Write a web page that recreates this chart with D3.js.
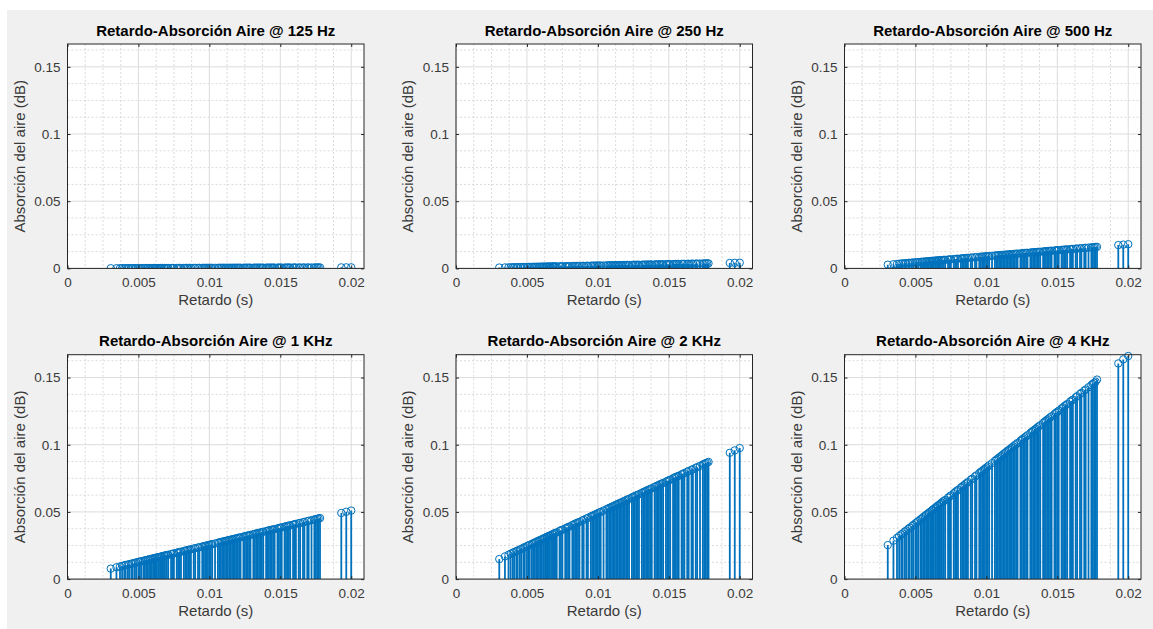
<!DOCTYPE html>
<html>
<head>
<meta charset="utf-8">
<script src="https://cdn.jsdelivr.net/npm/d3@7"></script>
<style>
  html, body { margin: 0; padding: 0; background: #ffffff; }
  svg { display: block; font-family: "Liberation Sans", Arial, Helvetica, sans-serif; }
</style>
</head>
<body>
<svg id="fig" width="1153" height="629"></svg>
<script>
// ---------------- DATA ----------------
const titles = [
  "Retardo-Absorción Aire @ 125 Hz",
  "Retardo-Absorción Aire @ 250 Hz",
  "Retardo-Absorción Aire @ 500 Hz",
  "Retardo-Absorción Aire @ 1 KHz",
  "Retardo-Absorción Aire @ 2 KHz",
  "Retardo-Absorción Aire @ 4 KHz"
];
const xLabel = "Retardo (s)";
const yLabel = "Absorción del aire (dB)";
const xTicks = [0, 0.005, 0.01, 0.015, 0.02];
const xTickLabels = ["0", "0.005", "0.01", "0.015", "0.02"];
const yTicks = [0, 0.05, 0.1, 0.15];
const yTickLabels = ["0", "0.05", "0.1", "0.15"];
const xLimits = [0, 0.0209];
const yLimits = [0, 0.167];

// delays (s)
const delays = [
  0.00305, 0.00345, 0.0037, 0.00385, 0.004, 0.0041, 0.00425, 0.00435, 0.0045, 0.0046,
  0.00475, 0.00485, 0.005, 0.0051, 0.0052, 0.00535, 0.00545, 0.00555, 0.00565, 0.00575,
  0.00585, 0.00595, 0.00605, 0.00615, 0.0062, 0.0063, 0.0064, 0.00645, 0.00655, 0.0066,
  0.0067, 0.0068, 0.00685, 0.00695,
  0.007, 0.0071, 0.0073, 0.0074, 0.0075, 0.0077, 0.0078, 0.0079, 0.008, 0.0082,
  0.0083, 0.0084, 0.0085, 0.0086, 0.0087, 0.0089, 0.009, 0.0092, 0.0093, 0.0095,
  0.0096, 0.0097, 0.0098, 0.0099, 0.01, 0.0101, 0.0102, 0.0104, 0.0106, 0.0107,
  0.0108, 0.0109, 0.011, 0.0111, 0.0112, 0.0113, 0.0114, 0.0115, 0.0116, 0.0117,
  0.0118, 0.0119, 0.012, 0.0121, 0.0122, 0.0124, 0.0125, 0.0126, 0.0127, 0.0128,
  0.0129, 0.0131, 0.0132, 0.0133, 0.0134, 0.0135, 0.0136, 0.0137, 0.0138, 0.014,
  0.0141, 0.0142, 0.0143, 0.0144, 0.0145, 0.0146, 0.0148, 0.0149, 0.015, 0.0151,
  0.0153, 0.0154, 0.0155, 0.0156, 0.0157, 0.0159, 0.016, 0.0161, 0.0163, 0.0164,
  0.0166, 0.0167, 0.0169, 0.017, 0.0172, 0.0174, 0.0175, 0.0176, 0.0177, 0.0178,
  0.0193, 0.01965, 0.02
];

const abs125 = [
  0.00012, 0.00014, 0.00015, 0.00015, 0.00016, 0.00016, 0.00017, 0.00017, 0.00018, 0.00018,
  0.00019, 0.00019, 0.0002, 0.0002, 0.00021, 0.00021, 0.00022, 0.00022, 0.00023, 0.00023,
  0.00023, 0.00024, 0.00024, 0.00025, 0.00025, 0.00025, 0.00026, 0.00026, 0.00026, 0.00026,
  0.00027, 0.00027, 0.00027, 0.00028,
  0.00028, 0.00028, 0.00029, 0.0003, 0.0003, 0.00031, 0.00031, 0.00032, 0.00032, 0.00033,
  0.00033, 0.00034, 0.00034, 0.00034, 0.00035, 0.00036, 0.00036, 0.00037, 0.00037, 0.00038,
  0.00038, 0.00039, 0.00039, 0.0004, 0.0004, 0.0004, 0.00041, 0.00042, 0.00042, 0.00043,
  0.00043, 0.00044, 0.00044, 0.00044, 0.00045, 0.00045, 0.00046, 0.00046, 0.00046, 0.00047,
  0.00047, 0.00048, 0.00048, 0.00048, 0.00049, 0.0005, 0.0005, 0.0005, 0.00051, 0.00051,
  0.00052, 0.00052, 0.00053, 0.00053, 0.00054, 0.00054, 0.00054, 0.00055, 0.00055, 0.00056,
  0.00056, 0.00057, 0.00057, 0.00058, 0.00058, 0.00058, 0.00059, 0.0006, 0.0006, 0.0006,
  0.00061, 0.00062, 0.00062, 0.00062, 0.00063, 0.00064, 0.00064, 0.00064, 0.00065, 0.00066,
  0.00066, 0.00067, 0.00068, 0.00068, 0.00069, 0.0007, 0.0007, 0.0007, 0.00071, 0.00071,
  0.00077, 0.00079, 0.0008
];

const abs250 = [
  0.00064, 0.00072, 0.00078, 0.00081, 0.00084, 0.00086, 0.00089, 0.00091, 0.00095, 0.00097,
  0.001, 0.00102, 0.00105, 0.00107, 0.00109, 0.00112, 0.00114, 0.00117, 0.00119, 0.00121,
  0.00123, 0.00125, 0.00127, 0.00129, 0.0013, 0.00132, 0.00134, 0.00135, 0.00138, 0.00139,
  0.00141, 0.00143, 0.00144, 0.00146,
  0.00147, 0.00149, 0.00153, 0.00155, 0.00158, 0.00162, 0.00164, 0.00166, 0.00168, 0.00172,
  0.00174, 0.00176, 0.00179, 0.00181, 0.00183, 0.00187, 0.00189, 0.00193, 0.00195, 0.002,
  0.00202, 0.00204, 0.00206, 0.00208, 0.0021, 0.00212, 0.00214, 0.00218, 0.00223, 0.00225,
  0.00227, 0.00229, 0.00231, 0.00233, 0.00235, 0.00237, 0.00239, 0.00242, 0.00244, 0.00246,
  0.00248, 0.0025, 0.00252, 0.00254, 0.00256, 0.0026, 0.00263, 0.00265, 0.00267, 0.00269,
  0.00271, 0.00275, 0.00277, 0.00279, 0.00281, 0.00284, 0.00286, 0.00288, 0.0029, 0.00294,
  0.00296, 0.00298, 0.003, 0.00302, 0.00305, 0.00307, 0.00311, 0.00313, 0.00315, 0.00317,
  0.00321, 0.00323, 0.00326, 0.00328, 0.0033, 0.00334, 0.00336, 0.00338, 0.00342, 0.00344,
  0.00349, 0.00351, 0.00355, 0.00357, 0.00361, 0.00365, 0.00368, 0.0037, 0.00372, 0.00374,
  0.00405, 0.00413, 0.0042
];

const abs500 = [
  0.00275, 0.00311, 0.00333, 0.00347, 0.0036, 0.00369, 0.00383, 0.00392, 0.00405, 0.00414,
  0.00428, 0.00437, 0.0045, 0.00459, 0.00468, 0.00482, 0.00491, 0.005, 0.00509, 0.00518,
  0.00527, 0.00536, 0.00545, 0.00554, 0.00558, 0.00567, 0.00576, 0.00581, 0.0059, 0.00594,
  0.00603, 0.00612, 0.00617, 0.00626,
  0.0063, 0.00639, 0.00657, 0.00666, 0.00675, 0.00693, 0.00702, 0.00711, 0.0072, 0.00738,
  0.00747, 0.00756, 0.00765, 0.00774, 0.00783, 0.00801, 0.0081, 0.00828, 0.00837, 0.00855,
  0.00864, 0.00873, 0.00882, 0.00891, 0.009, 0.00909, 0.00918, 0.00936, 0.00954, 0.00963,
  0.00972, 0.00981, 0.0099, 0.00999, 0.01008, 0.01017, 0.01026, 0.01035, 0.01044, 0.01053,
  0.01062, 0.01071, 0.0108, 0.01089, 0.01098, 0.01116, 0.01125, 0.01134, 0.01143, 0.01152,
  0.01161, 0.01179, 0.01188, 0.01197, 0.01206, 0.01215, 0.01224, 0.01233, 0.01242, 0.0126,
  0.01269, 0.01278, 0.01287, 0.01296, 0.01305, 0.01314, 0.01332, 0.01341, 0.0135, 0.01359,
  0.01377, 0.01386, 0.01395, 0.01404, 0.01413, 0.01431, 0.0144, 0.01449, 0.01467, 0.01476,
  0.01494, 0.01503, 0.01521, 0.0153, 0.01548, 0.01566, 0.01575, 0.01584, 0.01593, 0.01602,
  0.01737, 0.01769, 0.018
];

const abs1k = [
  0.0078, 0.0088, 0.0094, 0.0098, 0.0102, 0.0105, 0.0108, 0.0111, 0.0115, 0.0117,
  0.0121, 0.0124, 0.0128, 0.013, 0.0133, 0.0136, 0.0139, 0.0142, 0.0144, 0.0147,
  0.0149, 0.0152, 0.0154, 0.0157, 0.0158, 0.0161, 0.0163, 0.0164, 0.0167, 0.0168,
  0.0171, 0.0173, 0.0175, 0.0177,
  0.0179, 0.0181, 0.0186, 0.0189, 0.0191, 0.0196, 0.0199, 0.0201, 0.0204, 0.0209,
  0.0212, 0.0214, 0.0217, 0.0219, 0.0222, 0.0227, 0.023, 0.0235, 0.0237, 0.0242,
  0.0245, 0.0247, 0.025, 0.0252, 0.0255, 0.0258, 0.026, 0.0265, 0.027, 0.0273,
  0.0275, 0.0278, 0.0281, 0.0283, 0.0286, 0.0288, 0.0291, 0.0293, 0.0296, 0.0298,
  0.0301, 0.0303, 0.0306, 0.0309, 0.0311, 0.0316, 0.0319, 0.0321, 0.0324, 0.0326,
  0.0329, 0.0334, 0.0337, 0.0339, 0.0342, 0.0344, 0.0347, 0.0349, 0.0352, 0.0357,
  0.036, 0.0362, 0.0365, 0.0367, 0.037, 0.0372, 0.0377, 0.038, 0.0383, 0.0385,
  0.039, 0.0393, 0.0395, 0.0398, 0.04, 0.0405, 0.0408, 0.0411, 0.0416, 0.0418,
  0.0423, 0.0426, 0.0431, 0.0434, 0.0439, 0.0444, 0.0446, 0.0449, 0.0451, 0.0454,
  0.0492, 0.0501, 0.051
];

const abs2k = [
  0.0149, 0.0169, 0.0181, 0.0189, 0.0196, 0.0201, 0.0208, 0.0213, 0.022, 0.0225,
  0.0233, 0.0238, 0.0245, 0.025, 0.0255, 0.0262, 0.0267, 0.0272, 0.0277, 0.0282,
  0.0287, 0.0292, 0.0296, 0.0301, 0.0304, 0.0309, 0.0314, 0.0316, 0.0321, 0.0323,
  0.0328, 0.0333, 0.0336, 0.0341,
  0.0343, 0.0348, 0.0358, 0.0363, 0.0368, 0.0377, 0.0382, 0.0387, 0.0392, 0.0402,
  0.0407, 0.0412, 0.0417, 0.0421, 0.0426, 0.0436, 0.0441, 0.0451, 0.0456, 0.0466,
  0.047, 0.0475, 0.048, 0.0485, 0.049, 0.0495, 0.05, 0.051, 0.0519, 0.0524,
  0.0529, 0.0534, 0.0539, 0.0544, 0.0549, 0.0554, 0.0559, 0.0564, 0.0568, 0.0573,
  0.0578, 0.0583, 0.0588, 0.0593, 0.0598, 0.0608, 0.0613, 0.0617, 0.0622, 0.0627,
  0.0632, 0.0642, 0.0647, 0.0652, 0.0657, 0.0662, 0.0666, 0.0671, 0.0676, 0.0686,
  0.0691, 0.0696, 0.0701, 0.0706, 0.0711, 0.0715, 0.0725, 0.073, 0.0735, 0.074,
  0.075, 0.0755, 0.076, 0.0764, 0.0769, 0.0779, 0.0784, 0.0789, 0.0799, 0.0804,
  0.0813, 0.0818, 0.0828, 0.0833, 0.0843, 0.0853, 0.0858, 0.0862, 0.0867, 0.0872,
  0.0940, 0.0958, 0.0975
];

const abs4k = [
  0.0253, 0.0286, 0.0307, 0.032, 0.0332, 0.034, 0.0353, 0.0361, 0.0374, 0.0382,
  0.0394, 0.0403, 0.0415, 0.0423, 0.0432, 0.0444, 0.0452, 0.0461, 0.0469, 0.0477,
  0.0486, 0.0494, 0.0502, 0.051, 0.0515, 0.0523, 0.0531, 0.0535, 0.0544, 0.0548,
  0.0556, 0.0564, 0.0569, 0.0577,
  0.0581, 0.0589, 0.0606, 0.0614, 0.0623, 0.0639, 0.0647, 0.0656, 0.0664, 0.0681,
  0.0689, 0.0697, 0.0706, 0.0714, 0.0722, 0.0739, 0.0747, 0.0764, 0.0772, 0.0789,
  0.0797, 0.0805, 0.0813, 0.0822, 0.083, 0.0838, 0.0847, 0.0863, 0.088, 0.0888,
  0.0896, 0.0905, 0.0913, 0.0921, 0.093, 0.0938, 0.0946, 0.0955, 0.0963, 0.0971,
  0.0979, 0.0988, 0.0996, 0.1004, 0.1013, 0.1029, 0.1038, 0.1046, 0.1054, 0.1062,
  0.1071, 0.1087, 0.1096, 0.1104, 0.1112, 0.112, 0.1129, 0.1137, 0.1145, 0.1162,
  0.117, 0.1179, 0.1187, 0.1195, 0.1204, 0.1212, 0.1228, 0.1237, 0.1245, 0.1253,
  0.127, 0.1278, 0.1287, 0.1295, 0.1303, 0.132, 0.1328, 0.1336, 0.1353, 0.1361,
  0.1378, 0.1386, 0.1403, 0.1411, 0.1428, 0.1444, 0.1453, 0.1461, 0.1469, 0.1485,
  0.1605, 0.1635, 0.1660
];

const seriesList = [abs125, abs250, abs500, abs1k, abs2k, abs4k];

// ---------------- LAYOUT ----------------
const colLeft = [67.5, 456, 844.5];
const rowTop = [44, 354.7];
const plotW = 296.5;
const plotH = 224.4;
const stemColor = "#0072bd";
const axisColor = "#262626";

const svg = d3.select("#fig");
svg.append("rect").attr("x", 7).attr("y", 10).attr("width", 1146).attr("height", 619).attr("fill", "#f0f0f0");

const x = d3.scaleLinear().domain(xLimits).range([0, plotW]);
const y = d3.scaleLinear().domain(yLimits).range([plotH, 0]);
const xMinor = d3.range(0, xLimits[1], 0.00125).filter(v => Math.abs(v / 0.005 - Math.round(v / 0.005)) > 1e-6);
const yMinor = d3.range(0, yLimits[1], 0.0125).filter(v => Math.abs(v / 0.05 - Math.round(v / 0.05)) > 1e-6);

seriesList.forEach((vals, i) => {
  const col = i % 3, row = Math.floor(i / 3);
  const g = svg.append("g").attr("transform", `translate(${colLeft[col]},${rowTop[row]})`);
  g.append("rect").attr("width", plotW).attr("height", plotH).attr("fill", "#ffffff");

  // minor grid
  g.selectAll(".mgx").data(xMinor).join("line")
    .attr("x1", d => x(d)).attr("x2", d => x(d)).attr("y1", 0).attr("y2", plotH)
    .attr("stroke", "#d2d2d2").attr("stroke-width", 0.8).attr("stroke-dasharray", "2,2");
  g.selectAll(".mgy").data(yMinor).join("line")
    .attr("y1", d => y(d)).attr("y2", d => y(d)).attr("x1", 0).attr("x2", plotW)
    .attr("stroke", "#d2d2d2").attr("stroke-width", 0.8).attr("stroke-dasharray", "2,2");
  // major grid
  g.selectAll(".gx").data(xTicks).join("line")
    .attr("x1", d => x(d)).attr("x2", d => x(d)).attr("y1", 0).attr("y2", plotH)
    .attr("stroke", "#dcdcdc").attr("stroke-width", 1);
  g.selectAll(".gy").data(yTicks).join("line")
    .attr("y1", d => y(d)).attr("y2", d => y(d)).attr("x1", 0).attr("x2", plotW)
    .attr("stroke", "#dcdcdc").attr("stroke-width", 1);

  const pts = delays.map((d, k) => ({ t: d, v: vals[k] }));
  const clip = "clip" + i;
  g.append("clipPath").attr("id", clip).append("rect").attr("x", -6).attr("y", -6).attr("width", plotW + 12).attr("height", plotH + 6);
  const dg = g.append("g").attr("clip-path", `url(#${clip})`);
  dg.selectAll(".stem").data(pts).join("line")
    .attr("x1", d => x(d.t)).attr("x2", d => x(d.t))
    .attr("y1", y(0)).attr("y2", d => y(d.v))
    .attr("stroke", stemColor).attr("stroke-width", 1.8);
  dg.selectAll(".mk").data(pts).join("circle")
    .attr("cx", d => x(d.t)).attr("cy", d => y(d.v)).attr("r", 3.7)
    .attr("fill", "none").attr("stroke", stemColor).attr("stroke-width", 1);

  // box
  g.append("rect").attr("width", plotW).attr("height", plotH)
    .attr("fill", "none").attr("stroke", axisColor).attr("stroke-width", 1);

  // axes (ticks inward) with d3 axes
  const xAx = d3.axisBottom(x).tickValues(xTicks).tickFormat((d, k) => xTickLabels[k]).tickSizeInner(-3).tickSizeOuter(0).tickPadding(9);
  const xg = g.append("g").attr("transform", `translate(0,${plotH})`).call(xAx);
  const xTop = d3.axisTop(x).tickValues(xTicks).tickFormat("").tickSizeInner(-3).tickSizeOuter(0);
  const xtg = g.append("g").call(xTop);
  const yAx = d3.axisLeft(y).tickValues(yTicks).tickFormat((d, k) => yTickLabels[k]).tickSizeInner(-3).tickSizeOuter(0).tickPadding(7);
  const yg = g.append("g").call(yAx);
  const yRight = d3.axisRight(y).tickValues(yTicks).tickFormat("").tickSizeInner(-3).tickSizeOuter(0);
  const yrg = g.append("g").attr("transform", `translate(${plotW},0)`).call(yRight);
  [xg, xtg, yg, yrg].forEach(a => {
    a.select(".domain").remove();
    a.selectAll("line").attr("stroke", axisColor);
    a.selectAll("text").attr("fill", "#3a3a3a").style("font-size", "13.5px")
      .style("font-family", '"Liberation Sans", Arial, sans-serif');
  });

  // labels
  g.append("text").attr("x", plotW / 2).attr("y", plotH + 36.5)
    .attr("text-anchor", "middle").attr("fill", "#3a3a3a").style("font-size", "15px").text(xLabel);
  g.append("text").attr("transform", `translate(${-43},${plotH / 2}) rotate(-90)`)
    .attr("text-anchor", "middle").attr("fill", "#3a3a3a").style("font-size", "15px").text(yLabel);
  g.append("text").attr("x", plotW / 2).attr("y", -8.5)
    .attr("text-anchor", "middle").attr("fill", "#000").style("font-size", "15px").style("font-weight", "bold").text(titles[i]);
});
</script>
</body>
</html>
